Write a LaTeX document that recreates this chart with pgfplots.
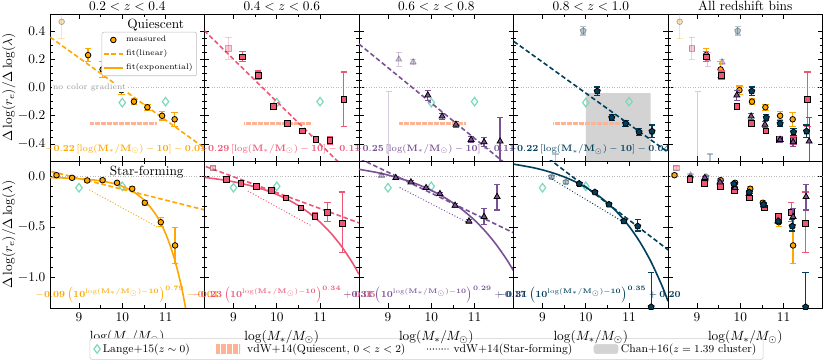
\documentclass[border=0pt]{standalone}
\usepackage{pgfplots}
\pgfplotsset{compat=1.18}
\usepackage{pgfplotstable}
\usepgfplotslibrary{groupplots}

\definecolor{cO}{HTML}{FFA600}
\definecolor{cP}{HTML}{EF5675}
\definecolor{cU}{HTML}{7A5195}
\definecolor{cB}{HTML}{003F5C}
\definecolor{cL}{HTML}{7FD8BE}
\definecolor{cH}{HTML}{FFA07A}
\definecolor{cC}{HTML}{D3D3D3}

% quiescent (top row)
\pgfplotstableread{
x y ep em
9.21 0.229 0.046 0.046
9.545 0.128 0.055 0.055
9.98 -0.019 0.03 0.03
10.27 -0.10 0.02 0.02
10.58 -0.14 0.02 0.02
10.92 -0.20 0.03 0.03
11.21 -0.225 0.05 0.05
}\oT
\pgfplotstableread{
x y ep em
8.60 0.465 0.10 0.12
}\oTf
\pgfplotstableread{
x y ep em
9.21 0.217 0.035 0.035
9.57 0.087 0.03 0.03
9.92 -0.133 0.02 0.02
10.25 -0.255 0.02 0.02
10.59 -0.308 0.015 0.015
10.90 -0.369 0.02 0.02
11.23 -0.374 0.03 0.03
11.55 -0.085 0.195 0.19
}\pT
\pgfplotstableread{
x y ep em
8.88 0.277 0.078 0.078
}\pTf
\pgfplotstableread{
x y ep em
9.92 -0.055 0.035 0.035
10.25 -0.204 0.02 0.02
10.57 -0.262 0.02 0.02
10.92 -0.369 0.02 0.02
11.22 -0.386 0.03 0.03
11.59 -0.381 0.168 0.17
}\uT
\pgfplotstableread{
x y ep em
9.02 -0.75 0.72 0.2
9.25 0.199 0.05 0.05
9.58 0.18 0.02 0.02
}\uTf
\pgfplotstableread{
x y ep em
10.265 -0.026 0.03 0.03
10.60 -0.213 0.02 0.02
10.92 -0.255 0.02 0.02
11.23 -0.315 0.025 0.025
11.53 -0.31 0.045 0.045
}\bT
\pgfplotstableread{
x y ep em
9.30 -0.80 0.33 0.2
9.94 0.401 0.03 0.03
}\bTf

% star-forming (bottom row)
\pgfplotstableread{
x y ep em
8.48 0.01 0.015 0.015
8.84 -0.016 0.015 0.015
9.19 -0.042 0.015 0.015
9.545 -0.039 0.015 0.015
9.88 -0.065 0.015 0.015
10.23 -0.124 0.02 0.02
10.52 -0.262 0.025 0.025
10.89 -0.454 0.045 0.045
11.22 -0.683 0.18 0.18
}\oB
\pgfplotstableread{
x y ep em
8.84 -0.033 0.015 0.015
9.17 -0.072 0.015 0.015
9.535 -0.099 0.015 0.015
9.87 -0.138 0.015 0.015
10.21 -0.213 0.02 0.02
10.56 -0.312 0.02 0.02
10.88 -0.394 0.03 0.03
11.175 -0.355 0.095 0.09
11.51 -0.466 0.31 0.285
}\pB
\pgfplotstableread{
x y ep em
8.52 0.083 0.015 0.015
}\pBf
\pgfplotstableread{
x y ep em
9.18 -0.016 0.015 0.015
9.53 -0.059 0.015 0.015
9.88 -0.115 0.015 0.015
10.20 -0.174 0.015 0.015
10.55 -0.289 0.02 0.02
10.87 -0.444 0.02 0.02
11.22 -0.40 0.078 0.076
11.52 -0.203 0.12 0.13
}\uB
\pgfplotstableread{
x y ep em
8.85 0.007 0.015 0.015
}\uBf
\pgfplotstableread{
x y ep em
9.85 -0.075 0.015 0.015
10.21 -0.158 0.015 0.015
10.535 -0.279 0.02 0.02
10.88 -0.444 0.02 0.02
11.20 -0.493 0.066 0.047
11.51 -1.29 0.34 0.1
}\bB
\pgfplotstableread{
x y ep em
9.21 -0.006 0.015 0.015
9.54 -0.059 0.015 0.015
}\bBf

\pgfplotsset{
  table/x=x, table/y=y, table/y error plus=ep, table/y error minus=em,
  ser/.style={only marks, color=#1, mark size=2.1pt,
    error bars/y dir=both, error bars/y explicit,
    error bars/error bar style={line width=0.9pt, color=#1},
    error bars/error mark options={rotate=90, mark size=2.4pt, line width=0.9pt, color=#1}},
  sO/.style={ser=cO, mark=*, mark options={fill=cO, draw=black, line width=0.6pt}},
  sP/.style={ser=cP, mark=square*, mark options={fill=cP, draw=black, line width=0.6pt}},
  sU/.style={ser=cU, mark=triangle*, mark size=2.6pt, mark options={fill=cU, draw=black, line width=0.6pt}},
  sB/.style={ser=cB, mark=pentagon*, mark size=2.4pt, mark options={fill=cB, draw=black, line width=0.6pt}},
  faded/.style={opacity=0.3},
  fitL/.style={line width=1.2pt, dash pattern=on 3.5pt off 2pt, no marks},
  fitE/.style={line width=1.2pt, smooth, no marks},
  vdw/.style={line width=1pt, dash pattern=on 0pt off 2.2pt, line cap=round, no marks},
  zl/.style={gray!55, line width=0.5pt, dash pattern=on 0.6pt off 1.3pt, no marks},
  hatch/.style={cH!80, line width=2.6pt, dash pattern=on 0.4pt off 0.5pt, no marks},
  lange/.style={only marks, mark=diamond, mark size=3.2pt, color=cL, mark options={line width=0.9pt}},
  top/.style={ymin=-0.52, ymax=0.52, ytick={-0.4,-0.2,0,0.2,0.4}, minor y tick num=3},
  bot/.style={ymin=-1.3, ymax=0.15, ytick={-1,-0.5,0}, minor y tick num=4, xlabel={$\log(M_*/M_\odot)$}},
}
\newcommand{\zeroline}{\addplot[zl] coordinates {(8.2,0) (12,0)};}
\newcommand{\topref}{%
  \addplot[hatch] coordinates {(9.25,-0.255) (10.8,-0.255)};
  \addplot[lange] coordinates {(10.0,-0.107) (11.0,-0.10)};}
\newcommand{\botref}{\addplot[lange] coordinates {(9.0,-0.114) (10.0,-0.10)};}

% fit formulas, typeset once into boxes
\newcommand{\ff}{\fontsize{6.7}{8}\selectfont}
\newsavebox\fA \newsavebox\fB \newsavebox\fC \newsavebox\fD
\newsavebox\fE \newsavebox\fF \newsavebox\fG \newsavebox\fH

\begin{document}%
\sbox\fA{\ff\color{cO}$\mathbf{-0.22\,[\log(M_*/M_\odot)-10]-0.01}$}%
\sbox\fB{\ff\color{cP}$\mathbf{-0.29\,[\log(M_*/M_\odot)-10]-0.11}$}%
\sbox\fC{\ff\color{cU}$\mathbf{-0.25\,[\log(M_*/M_\odot)-10]-0.11}$}%
\sbox\fD{\ff\color{cB}$\mathbf{-0.22\,[\log(M_*/M_\odot)-10]-0.04}$}%
\sbox\fE{\ff\color{cO}$\mathbf{-0.09\left(10^{\log(M_*/M_\odot)-10}\right)^{0.79}-0.01}$}%
\sbox\fF{\ff\color{cP}$\mathbf{-0.23\left(10^{\log(M_*/M_\odot)-10}\right)^{0.34}+0.05}$}%
\sbox\fG{\ff\color{cU}$\mathbf{-0.31\left(10^{\log(M_*/M_\odot)-10}\right)^{0.29}+0.17}$}%
\sbox\fH{\ff\color{cB}$\mathbf{-0.31\left(10^{\log(M_*/M_\odot)-10}\right)^{0.35}+0.20}$}%
\begin{tikzpicture}
\begin{groupplot}[
  group style={group name=G, group size=5 by 2, horizontal sep=0pt, vertical sep=0pt,
    xticklabels at=edge bottom, yticklabels at=edge left},
  scale only axis, width=115.875pt, height=110.25pt,
  xmin=8.33, xmax=11.9, xtick={9,10,11}, minor x tick num=1,
  tick align=inside, major tick length=3.5pt, minor tick length=2pt,
  every tick/.style={black, line width=0.5pt},
  axis line style={line width=0.7pt},
  clip mode=individual,
  every axis title/.style={at={(0.5,1)}, anchor=base, yshift=2.4pt},
  ylabel shift=-5pt,
  yticklabel style={/pgf/number format/.cd, fixed, fixed zerofill, precision=1},
]
% ---- row 1 : quiescent
\nextgroupplot[top, title={$0.2<z<0.4$}, ylabel={$\Delta\log(r_e)/\Delta\log(\lambda)$},
  legend style={at={(0.951,0.878)}, anchor=north east, font=\fontsize{6}{7}\selectfont,
    draw=gray!50, rounded corners=1.5pt, inner sep=1pt, row sep=0.5pt},
  legend cell align=left]
\addlegendimage{legend image code/.code={\draw[fill=cO, line width=0.6pt] (7pt,0pt) circle (2.1pt);}}
\addlegendentry{measured}
\addlegendimage{legend image code/.code={\draw[cO, line width=1.2pt, dash pattern=on 3.5pt off 2pt] (0pt,0pt) -- (14pt,0pt);}}
\addlegendentry{fit(linear)}
\addlegendimage{legend image code/.code={\draw[cO, line width=1.2pt] (0pt,0pt) -- (14pt,0pt);}}
\addlegendentry{fit(exponential)}
\zeroline
\topref
\addplot[fitL, cO] coordinates {(8.2,0.386) (12,-0.45)};
\addplot[sO, faded] table {\oTf};
\addplot[sO] table {\oT};

\nextgroupplot[top, title={$0.4<z<0.6$}]
\zeroline
\topref
\addplot[fitL, cP] coordinates {(8.2,0.44) (12,-0.70)};
\addplot[sP, faded] table {\pTf};
\addplot[sP] table {\pT};

\nextgroupplot[top, title={$0.6<z<0.8$}]
\zeroline
\topref
\addplot[fitL, cU] coordinates {(8.2,0.34) (12,-0.61)};
\addplot[sU, faded] table {\uTf};
\addplot[sU] table {\uT};

\nextgroupplot[top, title={$0.8<z<1.0$}]
\addplot[fill=cC, draw=none] coordinates {(10,-0.6) (11.5,-0.6) (11.5,-0.04) (10,-0.04) (10,-0.6)};
\zeroline
\topref
\addplot[fitL, cB] coordinates {(8.2,0.356) (12,-0.48)};
\addplot[sB, faded] table {\bTf};
\addplot[sB] table {\bT};

\nextgroupplot[top, title={All redshift bins}]
\zeroline
\addplot[sO, faded] table {\oTf};
\addplot[sP, faded] table {\pTf};
\addplot[sU, faded] table {\uTf};
\addplot[sB, faded] table {\bTf};
\addplot[sO] table {\oT};
\addplot[sP] table {\pT};
\addplot[sU] table {\uT};
\addplot[sB] table {\bT};

% ---- row 2 : star-forming
\nextgroupplot[bot, ylabel={$\Delta\log(r_e)/\Delta\log(\lambda)$},
  legend style={at={(2.437,-0.279)}, anchor=center, legend columns=4,
    font=\fontsize{8.5}{10}\selectfont, draw=gray!40, rounded corners=2pt,
    /tikz/every even column/.append style={column sep=14pt}},
  legend cell align=left]
\addlegendimage{lange}
\addlegendentry{Lange+15($z\sim0$)}
\addlegendimage{legend image code/.code={\draw[cH!80, line width=7pt, dash pattern=on 0.4pt off 0.5pt] (0pt,0pt) -- (18pt,0pt);}}
\addlegendentry{vdW+14(Quiescent, $0<z<2$)}
\addlegendimage{vdw, black}
\addlegendentry{vdW+14(Star-forming)}
\addlegendimage{legend image code/.code={\fill[cC] (0pt,-3.5pt) rectangle (18pt,3.5pt);}}
\addlegendentry{Chan+16($z=1.39$ cluster)}
\zeroline
\botref
\addplot[vdw, cO] coordinates {(9.25,-0.138) (10.85,-0.51)};
\addplot[fitL, cO] coordinates {(8.2,0.064) (12,-0.343)};
\addplot[fitE, cO] coordinates {(8.33,-0.014) (8.75,-0.019) (9.0,-0.025) (9.25,-0.033) (9.5,-0.046) (9.75,-0.067) (10.0,-0.10) (10.25,-0.152) (10.5,-0.234) (10.75,-0.362) (10.9,-0.473) (11.0,-0.565) (11.1,-0.676) (11.2,-0.808) (11.3,-0.968) (11.4,-1.158) (11.5,-1.388)};
\addplot[sO] table {\oB};

\nextgroupplot[bot]
\zeroline
\botref
\addplot[vdw, cP] coordinates {(9.34,-0.148) (10.80,-0.49)};
\addplot[fitL, cP] coordinates {(8.2,0.120) (12,-0.476)};
\addplot[fitE, cP] coordinates {(8.33,-0.012) (8.75,-0.036) (9.0,-0.055) (9.25,-0.078) (9.5,-0.106) (9.75,-0.139) (10.0,-0.18) (10.25,-0.230) (10.5,-0.290) (10.75,-0.364) (11.0,-0.453) (11.25,-0.562) (11.5,-0.694) (11.75,-0.855) (11.9,-0.968)};
\addplot[sP, faded] table {\pBf};
\addplot[sP] table {\pB};

\nextgroupplot[bot]
\zeroline
\botref
\addplot[vdw, cU] coordinates {(9.28,-0.114) (10.85,-0.46)};
\addplot[fitL, cU] coordinates {(8.2,0.204) (12,-0.579)};
\addplot[fitE, cU] coordinates {(8.33,0.068) (8.75,0.036) (9.0,0.011) (9.25,-0.018) (9.5,-0.052) (9.75,-0.092) (10.0,-0.14) (10.25,-0.196) (10.5,-0.263) (10.75,-0.342) (11.0,-0.434) (11.25,-0.544) (11.5,-0.674) (11.75,-0.827) (11.9,-0.933)};
\addplot[sU, faded] table {\uBf};
\addplot[sU] table {\uB};

\nextgroupplot[bot]
\zeroline
\botref
\addplot[vdw, cB] coordinates {(9.17,-0.016) (10.90,-0.46)};
\addplot[fitL, cB] coordinates {(8.2,0.481) (12,-0.758)};
\addplot[fitE, cB] coordinates {(8.33,0.119) (8.75,0.087) (9.0,0.062) (9.25,0.031) (9.5,-0.007) (9.75,-0.053) (10.0,-0.11) (10.25,-0.179) (10.5,-0.264) (10.75,-0.367) (11.0,-0.494) (11.25,-0.649) (11.5,-0.838) (11.75,-1.070) (11.9,-1.233)};
\addplot[sB, faded] table {\bBf};
\addplot[sB] table {\bB};

\nextgroupplot[bot]
\zeroline
\addplot[sP, faded] table {\pBf};
\addplot[sU, faded] table {\uBf};
\addplot[sB, faded] table {\bBf};
\addplot[sO] table {\oB};
\addplot[sP] table {\pB};
\addplot[sU] table {\uB};
\addplot[sB] table {\bB};
\end{groupplot}
% annotations
\node[anchor=west, fill=white, inner sep=0.5pt, text=gray!80, font=\fontsize{6}{7}\selectfont] at ([shift={(1.6pt,55.125pt)}]G c1r1.south west) {no color gradient};
\node at ([shift={(79.26pt,101.98pt)}]G c1r1.south west) {Quiescent};
\node at ([shift={(72.54pt,102.2pt)}]G c1r2.south west) {Star-forming};
\node[anchor=south, inner sep=0pt] at ([shift={(56.78pt,4.96pt)}]G c1r1.south west) {\usebox\fA};
\node[anchor=south, inner sep=0pt] at ([shift={(56.78pt,4.96pt)}]G c2r1.south west) {\usebox\fB};
\node[anchor=south, inner sep=0pt] at ([shift={(56.78pt,4.96pt)}]G c3r1.south west) {\usebox\fC};
\node[anchor=south, inner sep=0pt] at ([shift={(56.78pt,4.96pt)}]G c4r1.south west) {\usebox\fD};
\node[anchor=south, inner sep=0pt] at ([shift={(57.94pt,3.31pt)}]G c1r2.south west) {\usebox\fE};
\node[anchor=south, inner sep=0pt] at ([shift={(59.68pt,3.31pt)}]G c2r2.south west) {\usebox\fF};
\node[anchor=south, inner sep=0pt] at ([shift={(56.78pt,3.31pt)}]G c3r2.south west) {\usebox\fG};
\node[anchor=south, inner sep=0pt] at ([shift={(56.78pt,3.31pt)}]G c4r2.south west) {\usebox\fH};
\pgfresetboundingbox
\path[use as bounding box] ([shift={(-37.5pt,10.5pt)}]G c1r1.north west) rectangle ([shift={(585pt,-261.75pt)}]G c1r1.north west);
\end{tikzpicture}%
\end{document}
